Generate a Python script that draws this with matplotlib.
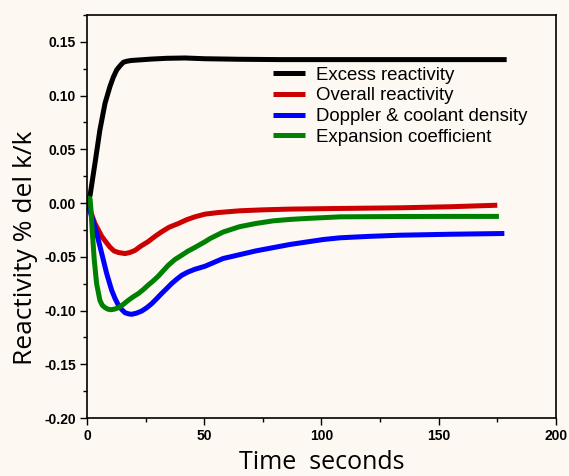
import matplotlib
matplotlib.use("Agg")
import matplotlib.pyplot as plt
from matplotlib.ticker import MultipleLocator

# Data
t_excess = [0, 1.3, 3.4, 5.5, 7.7, 9.8, 11.2, 12.7, 14.2, 15.5, 17, 19, 23, 27.6, 34, 41.8, 50.3, 65, 82, 100, 120, 150, 179]
excess = [0.003, 0.007, 0.037, 0.068, 0.093, 0.1085, 0.117, 0.124, 0.128, 0.131, 0.132, 0.1327, 0.1333, 0.134, 0.1347, 0.135, 0.1343, 0.1338, 0.1335, 0.1335, 0.1335, 0.1335, 0.1335]

t_overall = [0, 1.3, 3.4, 6.3, 8, 9.8, 11.5, 13.4, 16.2, 18.3, 20.5, 23, 26, 29, 31.8, 35, 39, 42.5, 46, 50.3, 56, 65, 75, 86.6, 108, 133.5, 155, 175]
overall = [-0.002, -0.0065, -0.019, -0.031, -0.036, -0.041, -0.0445, -0.046, -0.047, -0.046, -0.044, -0.040, -0.036, -0.031, -0.0268, -0.0225, -0.019, -0.0155, -0.0128, -0.0103, -0.0088, -0.0072, -0.0063, -0.0056, -0.005, -0.0044, -0.0034, -0.002]

t_doppler = [0, 1, 2, 4.1, 6.3, 8.4, 10.5, 12, 13.4, 14.8, 16.2, 17.6, 19, 21, 23.3, 25.4, 27.6, 29.7, 31.8, 34, 36.1, 38.3, 40.4, 43, 46, 50.3, 58, 72, 86.6, 100.8, 108, 120, 133.5, 155, 178]
doppler = [0.002, -0.005, -0.0128, -0.028, -0.047, -0.0656, -0.081, -0.089, -0.095, -0.099, -0.102, -0.103, -0.1035, -0.1025, -0.1005, -0.0975, -0.0936, -0.089, -0.0842, -0.0795, -0.0749, -0.0708, -0.0672, -0.0642, -0.0616, -0.0588, -0.0516, -0.0445, -0.0385, -0.0339, -0.0323, -0.031, -0.0299, -0.029, -0.0283]

t_expansion = [0, 1.3, 1.7, 2.3, 3.1, 4.1, 5.5, 6.5, 7.7, 9, 10.5, 12, 13.4, 15.5, 17.6, 19.7, 21.9, 24, 26, 28.2, 30.4, 32.5, 34.7, 37.5, 40.4, 43, 46, 50.3, 52.5, 58, 65, 72, 79.5, 86.6, 93.7, 108, 133.5, 155, 175.7]
expansion = [0.005, 0.004, -0.0065, -0.028, -0.053, -0.075, -0.0905, -0.095, -0.0973, -0.0988, -0.0992, -0.0985, -0.0973, -0.0942, -0.0905, -0.0872, -0.0842, -0.0805, -0.0765, -0.0725, -0.068, -0.063, -0.0578, -0.0525, -0.0485, -0.0448, -0.0413, -0.036, -0.033, -0.027, -0.022, -0.019, -0.0165, -0.0152, -0.0143, -0.0128, -0.0125, -0.0124, -0.0124]

labels = ["Excess reactivity", "Overall reactivity", "Doppler & coolant density", "Expansion coefficient"]
colors = ["#000000", "#CC0000", "#0000FF", "#008000"]

bg = "#FDF8F2"
fig = plt.figure(figsize=(5.69, 4.76), dpi=100, facecolor=bg)
ax = fig.add_axes([0.1529, 0.1218, 0.977 - 0.1529, 0.9685 - 0.1218], facecolor=bg)

series = [(t_excess, excess), (t_overall, overall), (t_doppler, doppler), (t_expansion, expansion)]
for (t, v), lab, c in zip(series, labels, colors):
    ax.plot(t, v, color=c, lw=3.6, label=lab, solid_capstyle="butt", solid_joinstyle="round")

ax.set_xlim(0, 200)
ax.set_ylim(-0.20, 0.175)
ax.xaxis.set_major_locator(MultipleLocator(50))
ax.xaxis.set_minor_locator(MultipleLocator(25))
ax.yaxis.set_minor_locator(MultipleLocator(0.025))
ax.set_yticks([-0.20, -0.15, -0.10, -0.05, 0.00, 0.05, 0.10, 0.15])
ax.set_yticklabels(["-0.20", "-0.15", "-0.10", "-0.05", "0.00", "0.05", "0.10", "0.15"])
ax.tick_params(which="major", direction="out", length=5, width=1, labelsize=10, pad=3)
ax.tick_params(which="minor", direction="out", length=3, width=1)
for lab in ax.get_xticklabels() + ax.get_yticklabels():
    lab.set_fontweight("bold")
    lab.set_family(["Liberation Sans", "DejaVu Sans"])
for s in ax.spines.values():
    s.set_linewidth(1.2)

ax.set_xlabel("Time  seconds", fontsize=18, family=["Open Sans", "DejaVu Sans"], labelpad=5)
ax.set_ylabel("Reactivity % del k/k", fontsize=19, family=["Open Sans", "DejaVu Sans"])
ax.yaxis.set_label_coords(-0.104, 0.423)

leg = ax.legend(loc="upper left", bbox_to_anchor=(0.397, 0.872), frameon=False,
                prop={"family": ["Liberation Sans", "DejaVu Sans"], "size": 13.4},
                handlelength=1.7, handletextpad=0.6, labelspacing=0.2, borderpad=0,
                borderaxespad=0)

fig.savefig("out.png", dpi=100, facecolor=bg)
